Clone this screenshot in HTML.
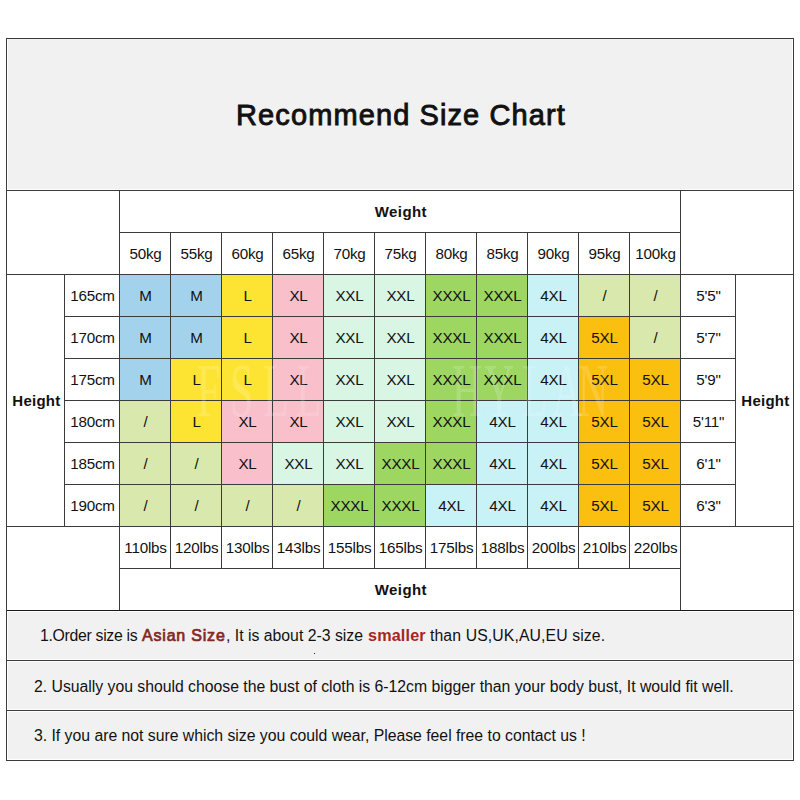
<!DOCTYPE html>
<html><head><meta charset="utf-8"><style>
html,body{margin:0;padding:0;background:#fff;}
body{width:800px;height:800px;position:relative;overflow:hidden;font-family:"Liberation Sans",sans-serif;color:#111;}
.c{position:absolute;box-sizing:border-box;display:flex;align-items:center;justify-content:center;white-space:nowrap;}
.ln{position:absolute;background:#3b3b3b;}
.t{font-size:15.2px;letter-spacing:-0.2px;}
.t span{position:relative;left:0.5px;top:-0.5px;}
.b{font-size:15px;font-weight:bold;letter-spacing:0.4px;}
.bh{letter-spacing:0.25px}
.b span{position:relative;top:-0.1px;left:0.9px}
.bw span{top:0px}
.title{font-size:29px;letter-spacing:1.1px;-webkit-text-stroke:0.9px #111;}
.title span{position:relative;top:1px;left:1px}
.hal{position:absolute;background:#fff;}
.wm{position:absolute;top:352px;font-family:"Liberation Serif",serif;font-size:76px;line-height:76px;color:#fff;opacity:0.16;transform:scaleX(0.55);transform-origin:0 0;}
.note{font-size:15.8px;letter-spacing:-0.02px;justify-content:flex-start;}
.note span{position:relative;top:1.5px;}
.n3 span{top:0.5px}
.nt{position:absolute;top:626.5px;font-size:15.8px;white-space:pre;line-height:18px;}
.nt.r1,.nt.r2{top:626.8px;-webkit-text-stroke:0.7px currentColor}
.n2,.n3{padding-left:27px;}
.r1{color:#84281f;font-size:16px;}
.r2{color:#a3271f;font-size:16.2px;font-weight:bold;-webkit-text-stroke:0 !important;top:626px !important;}
</style></head><body>
<div class="c title" style="left:7px;top:39px;width:786px;height:151px;background:#f1f1f1;"><span>Recommend Size Chart</span></div>
<div class="c b bw" style="left:120px;top:191px;width:560px;height:41px;"><span>Weight</span></div>
<div class="c t" style="left:120px;top:233px;width:50px;height:41px;"><span>50kg</span></div>
<div class="c t" style="left:171px;top:233px;width:50px;height:41px;"><span>55kg</span></div>
<div class="c t" style="left:222px;top:233px;width:50px;height:41px;"><span>60kg</span></div>
<div class="c t" style="left:273px;top:233px;width:50px;height:41px;"><span>65kg</span></div>
<div class="c t" style="left:324px;top:233px;width:50px;height:41px;"><span>70kg</span></div>
<div class="c t" style="left:375px;top:233px;width:50px;height:41px;"><span>75kg</span></div>
<div class="c t" style="left:426px;top:233px;width:50px;height:41px;"><span>80kg</span></div>
<div class="c t" style="left:477px;top:233px;width:50px;height:41px;"><span>85kg</span></div>
<div class="c t" style="left:528px;top:233px;width:50px;height:41px;"><span>90kg</span></div>
<div class="c t" style="left:579px;top:233px;width:50px;height:41px;"><span>95kg</span></div>
<div class="c t" style="left:630px;top:233px;width:50px;height:41px;"><span>100kg</span></div>
<div class="c b bh" style="left:7px;top:275px;width:57px;height:251px;"><span>Height</span></div>
<div class="c b bh" style="left:736px;top:275px;width:57px;height:251px;"><span>Height</span></div>
<div class="c t" style="left:65px;top:275px;width:54px;height:41px;"><span>165cm</span></div>
<div class="c t" style="left:681px;top:275px;width:54px;height:41px;"><span>5'5&quot;</span></div>
<div class="c t sz" style="left:120px;top:275px;width:50px;height:41px;background:#a3d3ec;"><span>M</span></div>
<div class="c t sz" style="left:171px;top:275px;width:50px;height:41px;background:#a3d3ec;"><span>M</span></div>
<div class="c t sz" style="left:222px;top:275px;width:50px;height:41px;background:#fee432;"><span>L</span></div>
<div class="c t sz" style="left:273px;top:275px;width:50px;height:41px;background:#f9bfcb;"><span>XL</span></div>
<div class="c t sz" style="left:324px;top:275px;width:50px;height:41px;background:#d9f5e4;"><span>XXL</span></div>
<div class="c t sz" style="left:375px;top:275px;width:50px;height:41px;background:#d9f5e4;"><span>XXL</span></div>
<div class="c t sz" style="left:426px;top:275px;width:50px;height:41px;background:#9dd762;"><span>XXXL</span></div>
<div class="c t sz" style="left:477px;top:275px;width:50px;height:41px;background:#9dd762;"><span>XXXL</span></div>
<div class="c t sz" style="left:528px;top:275px;width:50px;height:41px;background:#c9f2f7;"><span>4XL</span></div>
<div class="c t sz" style="left:579px;top:275px;width:50px;height:41px;background:#d9e9ad;"><span>/</span></div>
<div class="c t sz" style="left:630px;top:275px;width:50px;height:41px;background:#d9e9ad;"><span>/</span></div>
<div class="c t" style="left:65px;top:317px;width:54px;height:41px;"><span>170cm</span></div>
<div class="c t" style="left:681px;top:317px;width:54px;height:41px;"><span>5'7&quot;</span></div>
<div class="c t sz" style="left:120px;top:317px;width:50px;height:41px;background:#a3d3ec;"><span>M</span></div>
<div class="c t sz" style="left:171px;top:317px;width:50px;height:41px;background:#a3d3ec;"><span>M</span></div>
<div class="c t sz" style="left:222px;top:317px;width:50px;height:41px;background:#fee432;"><span>L</span></div>
<div class="c t sz" style="left:273px;top:317px;width:50px;height:41px;background:#f9bfcb;"><span>XL</span></div>
<div class="c t sz" style="left:324px;top:317px;width:50px;height:41px;background:#d9f5e4;"><span>XXL</span></div>
<div class="c t sz" style="left:375px;top:317px;width:50px;height:41px;background:#d9f5e4;"><span>XXL</span></div>
<div class="c t sz" style="left:426px;top:317px;width:50px;height:41px;background:#9dd762;"><span>XXXL</span></div>
<div class="c t sz" style="left:477px;top:317px;width:50px;height:41px;background:#9dd762;"><span>XXXL</span></div>
<div class="c t sz" style="left:528px;top:317px;width:50px;height:41px;background:#c9f2f7;"><span>4XL</span></div>
<div class="c t sz" style="left:579px;top:317px;width:50px;height:41px;background:#fbbf10;"><span>5XL</span></div>
<div class="c t sz" style="left:630px;top:317px;width:50px;height:41px;background:#d9e9ad;"><span>/</span></div>
<div class="c t" style="left:65px;top:359px;width:54px;height:41px;"><span>175cm</span></div>
<div class="c t" style="left:681px;top:359px;width:54px;height:41px;"><span>5'9&quot;</span></div>
<div class="c t sz" style="left:120px;top:359px;width:50px;height:41px;background:#a3d3ec;"><span>M</span></div>
<div class="c t sz" style="left:171px;top:359px;width:50px;height:41px;background:#fee432;"><span>L</span></div>
<div class="c t sz" style="left:222px;top:359px;width:50px;height:41px;background:#fee432;"><span>L</span></div>
<div class="c t sz" style="left:273px;top:359px;width:50px;height:41px;background:#f9bfcb;"><span>XL</span></div>
<div class="c t sz" style="left:324px;top:359px;width:50px;height:41px;background:#d9f5e4;"><span>XXL</span></div>
<div class="c t sz" style="left:375px;top:359px;width:50px;height:41px;background:#d9f5e4;"><span>XXL</span></div>
<div class="c t sz" style="left:426px;top:359px;width:50px;height:41px;background:#9dd762;"><span>XXXL</span></div>
<div class="c t sz" style="left:477px;top:359px;width:50px;height:41px;background:#9dd762;"><span>XXXL</span></div>
<div class="c t sz" style="left:528px;top:359px;width:50px;height:41px;background:#c9f2f7;"><span>4XL</span></div>
<div class="c t sz" style="left:579px;top:359px;width:50px;height:41px;background:#fbbf10;"><span>5XL</span></div>
<div class="c t sz" style="left:630px;top:359px;width:50px;height:41px;background:#fbbf10;"><span>5XL</span></div>
<div class="c t" style="left:65px;top:401px;width:54px;height:41px;"><span>180cm</span></div>
<div class="c t" style="left:681px;top:401px;width:54px;height:41px;"><span>5'11&quot;</span></div>
<div class="c t sz" style="left:120px;top:401px;width:50px;height:41px;background:#d9e9ad;"><span>/</span></div>
<div class="c t sz" style="left:171px;top:401px;width:50px;height:41px;background:#fee432;"><span>L</span></div>
<div class="c t sz" style="left:222px;top:401px;width:50px;height:41px;background:#f9bfcb;"><span>XL</span></div>
<div class="c t sz" style="left:273px;top:401px;width:50px;height:41px;background:#f9bfcb;"><span>XL</span></div>
<div class="c t sz" style="left:324px;top:401px;width:50px;height:41px;background:#d9f5e4;"><span>XXL</span></div>
<div class="c t sz" style="left:375px;top:401px;width:50px;height:41px;background:#d9f5e4;"><span>XXL</span></div>
<div class="c t sz" style="left:426px;top:401px;width:50px;height:41px;background:#9dd762;"><span>XXXL</span></div>
<div class="c t sz" style="left:477px;top:401px;width:50px;height:41px;background:#c9f2f7;"><span>4XL</span></div>
<div class="c t sz" style="left:528px;top:401px;width:50px;height:41px;background:#c9f2f7;"><span>4XL</span></div>
<div class="c t sz" style="left:579px;top:401px;width:50px;height:41px;background:#fbbf10;"><span>5XL</span></div>
<div class="c t sz" style="left:630px;top:401px;width:50px;height:41px;background:#fbbf10;"><span>5XL</span></div>
<div class="c t" style="left:65px;top:443px;width:54px;height:41px;"><span>185cm</span></div>
<div class="c t" style="left:681px;top:443px;width:54px;height:41px;"><span>6'1&quot;</span></div>
<div class="c t sz" style="left:120px;top:443px;width:50px;height:41px;background:#d9e9ad;"><span>/</span></div>
<div class="c t sz" style="left:171px;top:443px;width:50px;height:41px;background:#d9e9ad;"><span>/</span></div>
<div class="c t sz" style="left:222px;top:443px;width:50px;height:41px;background:#f9bfcb;"><span>XL</span></div>
<div class="c t sz" style="left:273px;top:443px;width:50px;height:41px;background:#d9f5e4;"><span>XXL</span></div>
<div class="c t sz" style="left:324px;top:443px;width:50px;height:41px;background:#d9f5e4;"><span>XXL</span></div>
<div class="c t sz" style="left:375px;top:443px;width:50px;height:41px;background:#9dd762;"><span>XXXL</span></div>
<div class="c t sz" style="left:426px;top:443px;width:50px;height:41px;background:#9dd762;"><span>XXXL</span></div>
<div class="c t sz" style="left:477px;top:443px;width:50px;height:41px;background:#c9f2f7;"><span>4XL</span></div>
<div class="c t sz" style="left:528px;top:443px;width:50px;height:41px;background:#c9f2f7;"><span>4XL</span></div>
<div class="c t sz" style="left:579px;top:443px;width:50px;height:41px;background:#fbbf10;"><span>5XL</span></div>
<div class="c t sz" style="left:630px;top:443px;width:50px;height:41px;background:#fbbf10;"><span>5XL</span></div>
<div class="c t" style="left:65px;top:485px;width:54px;height:41px;"><span>190cm</span></div>
<div class="c t" style="left:681px;top:485px;width:54px;height:41px;"><span>6'3&quot;</span></div>
<div class="c t sz" style="left:120px;top:485px;width:50px;height:41px;background:#d9e9ad;"><span>/</span></div>
<div class="c t sz" style="left:171px;top:485px;width:50px;height:41px;background:#d9e9ad;"><span>/</span></div>
<div class="c t sz" style="left:222px;top:485px;width:50px;height:41px;background:#d9e9ad;"><span>/</span></div>
<div class="c t sz" style="left:273px;top:485px;width:50px;height:41px;background:#d9e9ad;"><span>/</span></div>
<div class="c t sz" style="left:324px;top:485px;width:50px;height:41px;background:#9dd762;"><span>XXXL</span></div>
<div class="c t sz" style="left:375px;top:485px;width:50px;height:41px;background:#9dd762;"><span>XXXL</span></div>
<div class="c t sz" style="left:426px;top:485px;width:50px;height:41px;background:#c9f2f7;"><span>4XL</span></div>
<div class="c t sz" style="left:477px;top:485px;width:50px;height:41px;background:#c9f2f7;"><span>4XL</span></div>
<div class="c t sz" style="left:528px;top:485px;width:50px;height:41px;background:#c9f2f7;"><span>4XL</span></div>
<div class="c t sz" style="left:579px;top:485px;width:50px;height:41px;background:#fbbf10;"><span>5XL</span></div>
<div class="c t sz" style="left:630px;top:485px;width:50px;height:41px;background:#fbbf10;"><span>5XL</span></div>
<div class="c t" style="left:120px;top:527px;width:50px;height:41px;"><span>110lbs</span></div>
<div class="c t" style="left:171px;top:527px;width:50px;height:41px;"><span>120lbs</span></div>
<div class="c t" style="left:222px;top:527px;width:50px;height:41px;"><span>130lbs</span></div>
<div class="c t" style="left:273px;top:527px;width:50px;height:41px;"><span>143lbs</span></div>
<div class="c t" style="left:324px;top:527px;width:50px;height:41px;"><span>155lbs</span></div>
<div class="c t" style="left:375px;top:527px;width:50px;height:41px;"><span>165lbs</span></div>
<div class="c t" style="left:426px;top:527px;width:50px;height:41px;"><span>175lbs</span></div>
<div class="c t" style="left:477px;top:527px;width:50px;height:41px;"><span>188lbs</span></div>
<div class="c t" style="left:528px;top:527px;width:50px;height:41px;"><span>200lbs</span></div>
<div class="c t" style="left:579px;top:527px;width:50px;height:41px;"><span>210lbs</span></div>
<div class="c t" style="left:630px;top:527px;width:50px;height:41px;"><span>220lbs</span></div>
<div class="c b bw" style="left:120px;top:569px;width:560px;height:41px;"><span>Weight</span></div>
<div class="c note n1" style="left:7px;top:611px;width:786px;height:49px;background:#f1f1f1;"><span></span></div>
<span class="nt" style="left:40px;letter-spacing:-0.3px">1.Order size is</span>
<span class="nt r1" style="left:142px;letter-spacing:0.8px">Asian Size</span>
<span class="nt" style="left:226px;letter-spacing:0px">, It is about 2-3 size</span>
<span class="nt r2" style="left:368px;letter-spacing:0.15px">smaller</span>
<span class="nt" style="left:430px;letter-spacing:0.1px">than US,UK,AU,EU size.</span>
<div class="c note n2" style="left:7px;top:661px;width:786px;height:49px;background:#f1f1f1;"><span>2. Usually you should choose the bust of cloth is 6-12cm bigger than your body bust, It would fit well.</span></div>
<div class="c note n3" style="left:7px;top:711px;width:786px;height:49px;background:#f1f1f1;"><span>3. If you are not sure which size you could wear, Please feel free to contact us !</span></div>
<div class="hal" style="left:7px;top:189px;width:786px;height:1px"></div>
<div class="hal" style="left:7px;top:611px;width:786px;height:1px"></div>
<div class="hal" style="left:7px;top:659px;width:786px;height:1px"></div>
<div class="hal" style="left:7px;top:661px;width:786px;height:1px"></div>
<div class="hal" style="left:7px;top:709px;width:786px;height:1px"></div>
<div class="hal" style="left:7px;top:711px;width:786px;height:1px"></div>
<div class="hal" style="left:7px;top:759px;width:786px;height:1px"></div>
<div class="hal" style="left:7px;top:39px;width:1px;height:151px"></div>
<div class="hal" style="left:7px;top:611px;width:1px;height:149px"></div>
<div class="hal" style="left:792px;top:39px;width:1px;height:151px"></div>
<div class="hal" style="left:792px;top:611px;width:1px;height:149px"></div>
<div class="ln" style="left:6px;top:38px;width:788px;height:1px"></div>
<div class="ln" style="left:6px;top:190px;width:788px;height:1px"></div>
<div class="ln" style="left:119px;top:232px;width:562px;height:1px"></div>
<div class="ln" style="left:6px;top:274px;width:788px;height:1px"></div>
<div class="ln" style="left:6px;top:526px;width:788px;height:1px"></div>
<div class="ln" style="left:119px;top:568px;width:562px;height:1px"></div>
<div class="ln" style="left:6px;top:610px;width:788px;height:1px"></div>
<div class="ln" style="left:6px;top:660px;width:788px;height:1px"></div>
<div class="ln" style="left:6px;top:710px;width:788px;height:1px"></div>
<div class="ln" style="left:6px;top:760px;width:788px;height:1px"></div>
<div class="ln" style="left:64px;top:316px;width:672px;height:1px"></div>
<div class="ln" style="left:64px;top:358px;width:672px;height:1px"></div>
<div class="ln" style="left:64px;top:400px;width:672px;height:1px"></div>
<div class="ln" style="left:64px;top:442px;width:672px;height:1px"></div>
<div class="ln" style="left:64px;top:484px;width:672px;height:1px"></div>
<div class="ln" style="left:6px;top:38px;width:1px;height:723px"></div>
<div class="ln" style="left:793px;top:38px;width:1px;height:723px"></div>
<div class="ln" style="left:119px;top:190px;width:1px;height:421px"></div>
<div class="ln" style="left:680px;top:190px;width:1px;height:421px"></div>
<div class="ln" style="left:64px;top:274px;width:1px;height:253px"></div>
<div class="ln" style="left:735px;top:274px;width:1px;height:253px"></div>
<div class="ln" style="left:170px;top:232px;width:1px;height:337px"></div>
<div class="ln" style="left:221px;top:232px;width:1px;height:337px"></div>
<div class="ln" style="left:272px;top:232px;width:1px;height:337px"></div>
<div class="ln" style="left:323px;top:232px;width:1px;height:337px"></div>
<div class="ln" style="left:374px;top:232px;width:1px;height:337px"></div>
<div class="ln" style="left:425px;top:232px;width:1px;height:337px"></div>
<div class="ln" style="left:476px;top:232px;width:1px;height:337px"></div>
<div class="ln" style="left:527px;top:232px;width:1px;height:337px"></div>
<div class="ln" style="left:578px;top:232px;width:1px;height:337px"></div>
<div class="ln" style="left:629px;top:232px;width:1px;height:337px"></div>
<div class="ln" style="left:7px;top:610px;width:786px;height:1px;background:#1a1a1a"></div>
<div class="ln" style="left:314px;top:653px;width:1px;height:1px;background:#222"></div>
<div class="wm" style="left:197px">F</div>
<div class="wm" style="left:230px">S</div>
<div class="wm" style="left:263px">L</div>
<div class="wm" style="left:296px">L</div>
<div class="wm" style="left:452px">H</div>
<div class="wm" style="left:484px">Y</div>
<div class="wm" style="left:522px">L</div>
<div class="wm" style="left:552px">A</div>
<div class="wm" style="left:578px">N</div>
</body></html>
